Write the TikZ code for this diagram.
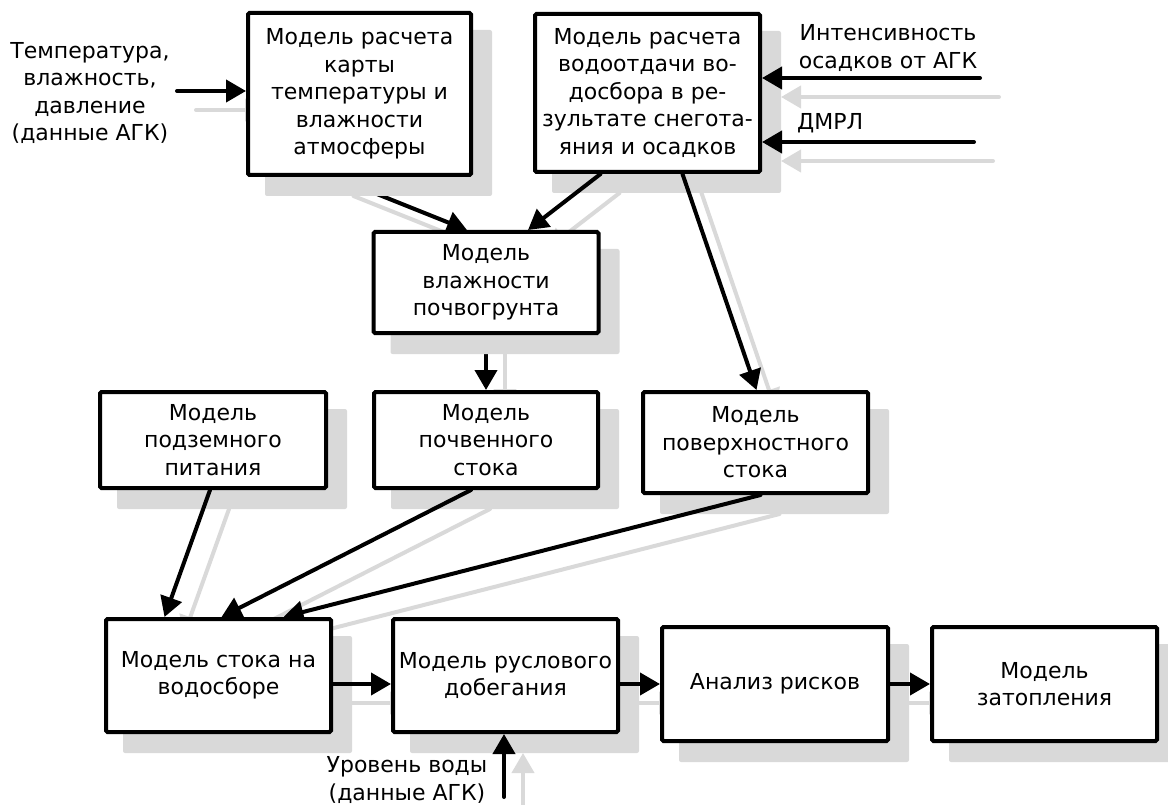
\documentclass[tikz,border=0pt]{standalone}
\usepackage{fontspec}
\setmainfont{DejaVu Sans}
\usetikzlibrary{arrows.meta}

\definecolor{shadegray}{RGB}{217,217,217}

\pgfdeclarelayer{shadelines}
\pgfdeclarelayer{lowlines}
\pgfdeclarelayer{shadeboxes}
\pgfdeclarelayer{lines}
\pgfsetlayers{shadelines,lowlines,shadeboxes,lines,main}

\tikzset{
  model/.style={draw, line width=4pt, fill=white, rounded corners=1.5pt, inner sep=0pt,
    align=center, font=\fontsize{22}{27.5}\selectfont},
  lbl/.style={inner sep=0pt, align=center, font=\fontsize{22}{27.5}\selectfont},
  link/.style={line width=4pt, line cap=round, -{Triangle[length=20pt,width=22pt]}},
  shlink/.style={link, draw=shadegray, transform canvas={shift={(19pt,-19pt)}}},
  shbox/.style={fill=shadegray, rounded corners=2pt},
}

% grey copy of a box, shifted right and down
\newcommand{\boxshadow}[1]{\fill[shbox] ([shift={(19pt,-19pt)}]#1.north west) rectangle ([shift={(19pt,-19pt)}]#1.south east);}
% connector with its grey copy
\newcommand{\flow}[3][lines]{%
  \begin{pgfonlayer}{shadelines}\draw[shlink] #2 -- #3;\end{pgfonlayer}%
  \begin{pgfonlayer}{#1}\draw[link] #2 -- #3;\end{pgfonlayer}}

\begin{document}
\begin{tikzpicture}[x=1pt, y=-1pt]
    \useasboundingbox (0,0) rectangle (1168,805);

    % models
    \node[model, minimum width=223pt, minimum height=162pt] (A) at (359.5,94) {Модель расчета\\карты\\температуры и\\влажности\\атмосферы};
    \node[model, minimum width=225pt, minimum height=158pt] (B) at (647.5,93) {Модель расчета\\водоотдачи во-\\досбора в ре-\\зультате снегота-\\яния и осадков};
    \node[model, minimum width=225pt, minimum height=101pt] (C) at (486,282.5) {Модель\\влажности\\почвогрунта};
    \node[model, minimum width=226pt, minimum height=96pt] (F) at (213,440) {Модель\\подземного\\питания};
    \node[model, minimum width=224pt, minimum height=96pt] (D) at (486,440) {Модель\\почвенного\\стока};
    \node[model, minimum width=225pt, minimum height=101pt] (E) at (755.5,442.5) {Модель\\поверхностного\\стока};
    \node[model, minimum width=225pt, minimum height=113pt] (G) at (218.5,675.5) {Модель стока на\\водосборе};
    \node[model, minimum width=225pt, minimum height=113pt] (H) at (505.5,675.5) {Модель руслового\\добегания};
    \node[model, minimum width=226pt, minimum height=114pt] (I) at (775,684) {Анализ рисков};
    \node[model, minimum width=225pt, minimum height=114pt] (J) at (1044.5,684) {Модель\\затопления};

    % input data
    \node[lbl] (temp) at (90,93) {Температура,\\влажность,\\давление\\(данные АГК)};
    \node[lbl] (rain) at (888,48) {Интенсивность\\осадков от АГК};
    \node[lbl, anchor=west] (radar) at (797,123) {ДМРЛ};
    \node[lbl] (level) at (407,780) {Уровень воды\\(данные АГК)};
    \coordinate (tempin) at (177,91);
    \coordinate (rainin) at (980,78);
    \coordinate (radarin) at (974,142);
    \coordinate (levelin) at (504,797);

    \begin{pgfonlayer}{shadeboxes}
        \foreach \b in {A,B,C,D,E,F,G,H,I,J} {\boxshadow{\b}}
    \end{pgfonlayer}

    \flow{(tempin)}{(tempin -| A.west)}
    \flow{(rainin)}{(rainin -| B.east)}
    \flow{(radarin)}{(radarin -| B.east)}
    \flow{(levelin)}{(levelin |- H.south)}
    \flow[lowlines]{([xshift=-25pt]A.south)}{([xshift=-19pt]C.north)}
    \flow{([xshift=-47pt]B.south)}{([xshift=42pt]C.north)}
    \flow{([xshift=35pt]B.south)}{([xshift=1pt]E.north)}
    \flow[lowlines]{(C.south)}{(D.north)}
    \flow{([xshift=-3pt]F.south)}{([xshift=-54pt]G.north)}
    \flow{([xshift=-15pt]D.south)}{([xshift=3pt]G.north)}
    \flow{([xshift=5pt]E.south)}{([xshift=65pt]G.north)}
    \flow{(G.east |- I.west)}{(H.west |- I.west)}
    \flow{(H.east |- I.west)}{(I.west)}
    \flow{(I.east)}{(J.west)}
\end{tikzpicture}
\end{document}
